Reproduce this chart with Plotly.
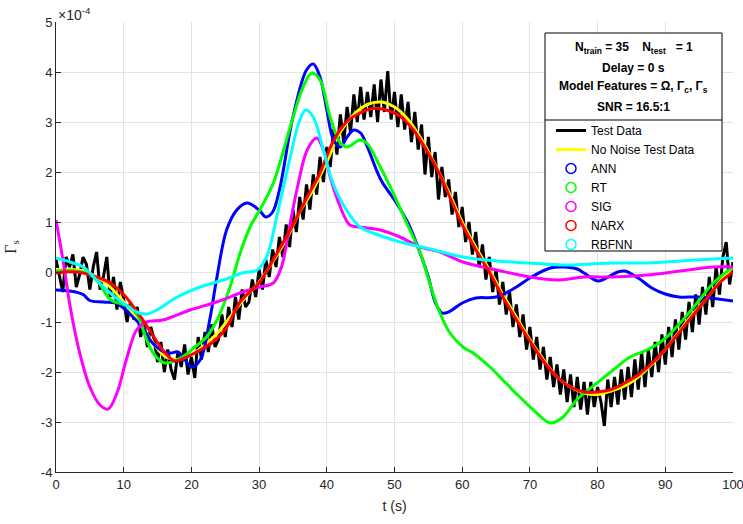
import plotly.graph_objects as go

# Measured test signal, sampled every 0.5 s (values in units of 1e-4)
test_data = [
    0.25, -0.1, -0.4, 0.3, 0.1, 0.35, -0.3, -0.05, 0.3, 0.15,
    -0.35, 0.1, 0.4, -0.35, -0.1, 0.3, -0.5, -0.1, -0.75, -0.2,
    -0.55, -1.0, -0.6, -0.95, -0.7, -1.3, -1.0, -1.5, -1.1, -1.35,
    -1.8, -1.4, -2.0, -1.55, -1.95, -2.15, -1.6, -1.9, -1.45, -2.05,
    -1.7, -2.12, -1.3, -1.75, -1.2, -1.6, -1.05, -1.5, -1.35, -0.85,
    -1.3, -0.7, -1.1, -0.5, -0.95, -0.35, -0.7, -0.6, -0.15, -0.5,
    0.05, -0.35, 0.25, -0.1, 0.45, 0.1, 0.7, 0.3, 0.95, 0.5,
    1.25, 0.8, 1.5, 1.05, 1.75, 1.25, 1.95, 1.55, 2.3, 1.8,
    2.5, 2.1, 2.85, 2.35, 3.15, 2.6, 3.3, 2.8, 3.55, 3.0,
    3.7, 3.05, 3.6, 3.1, 3.75, 3.0, 3.85, 3.2, 4.02, 3.05,
    3.6, 2.9, 3.55, 2.85, 3.4, 2.6, 3.2, 2.45, 2.95, 1.95,
    2.7, 1.9, 2.4, 1.45, 2.1, 1.5, 1.85, 1.15, 1.6, 0.9,
    1.3, 0.6, 1.0, 0.35, 0.8, 0.1, 0.55, -0.15, 0.3, -0.4,
    0.05, -0.65, -0.2, -0.85, -0.4, -1.1, -0.65, -1.3, -0.85, -1.55,
    -1.1, -1.75, -1.3, -1.95, -1.5, -2.15, -1.7, -2.3, -1.85, -2.45,
    -1.95, -2.6, -2.05, -2.7, -2.1, -2.75, -2.2, -2.85, -2.2, -2.7,
    -2.3, -2.6, -3.08, -2.15, -2.7, -2.1, -2.65, -1.95, -2.55, -1.9,
    -2.5, -1.75, -2.35, -1.6, -2.3, -1.55, -2.1, -1.4, -2.0, -1.25,
    -1.85, -1.1, -1.7, -0.95, -1.55, -0.8, -1.35, -0.6, -1.2, -0.45,
    -1.05, -0.3, -0.85, -0.1, -0.7, 0.1, -0.45, 0.3, 0.6, -0.25,
    0.2,
]
t_test = [i * 0.5 for i in range(len(test_data))]

t_clean = list(range(0, 101, 2))
no_noise = [
    0.05, 0.05, 0.02, -0.1, -0.3, -0.6, -0.95, -1.35, -1.68, -1.75,
    -1.65, -1.45, -1.2, -0.85, -0.5, -0.2, 0.2, 0.65, 1.2, 1.65,
    2.2, 2.8, 3.15, 3.35, 3.4, 3.3, 3.05, 2.65, 2.15, 1.6,
    1.0, 0.5, 0.05, -0.45, -0.9, -1.35, -1.75, -2.1, -2.3, -2.42,
    -2.45, -2.38, -2.28, -2.1, -1.85, -1.55, -1.2, -0.85, -0.55, -0.2,
    0.1,
]

t_ann = [0, 2, 4, 5, 7, 9, 11, 13, 14, 16, 17, 18, 19, 20, 21.3, 22.7, 23.7,
         25.2, 26.7, 28.2, 30, 31, 32, 33, 35, 37, 38, 39, 40, 41, 42, 43, 44,
         45, 46, 48, 50, 52, 54, 55, 56, 57, 58, 60, 62, 65, 68, 70, 73, 75,
         77, 78, 80, 81, 83, 84, 86, 88, 90, 92, 95, 100]
ann = [-0.36, -0.38, -0.45, -0.57, -0.6, -0.63, -0.85, -1.15, -1.38, -1.6,
       -1.62, -1.6, -1.75, -1.9, -1.76, -0.96, -0.16, 0.84, 1.24, 1.38, 1.24,
       1.1, 1.2, 1.64, 3.1, 4.04, 4.16, 3.9, 3.24, 2.64, 2.5, 2.7, 2.84, 2.78,
       2.5, 1.84, 1.44, 0.98, 0.3, -0.1, -0.6, -0.82, -0.8, -0.62, -0.52, -0.5,
       -0.3, -0.12, 0.08, 0.1, 0.06, -0.02, -0.18, -0.14, 0.0, 0.02, -0.12,
       -0.32, -0.44, -0.5, -0.5, -0.58]

t_rt = [0, 3, 5, 6.5, 8, 10, 11, 12, 13.4, 14.5, 16.1, 18.8, 20.5, 22.3, 24,
        25.7, 27.2, 28.7, 30.1, 32.1, 34.6, 36.5, 37.8, 39, 40.5, 42, 43, 44.9,
        45.9, 47.9, 49.8, 51.8, 53.8, 55.2, 56.7, 58.2, 60.1, 61.6, 64.1, 66,
        68.5, 71, 73, 74.9, 76.9, 78.6, 79.9, 82.3, 84.8, 87.3, 89.7, 92.2,
        94.7, 97.1, 100]
rt = [0.02, 0.02, -0.05, -0.25, -0.55, -0.65, -0.7, -0.85, -1.36, -1.65,
      -1.82, -1.69, -1.5, -1.29, -0.9, -0.3, 0.38, 0.91, 1.24, 1.78, 2.9, 3.7,
      3.98, 3.84, 3.1, 2.58, 2.5, 2.64, 2.58, 2.1, 1.58, 0.98, 0.38, -0.22,
      -0.82, -1.22, -1.5, -1.62, -1.9, -2.16, -2.5, -2.82, -3.02, -2.9, -2.56,
      -2.36, -2.22, -1.96, -1.7, -1.56, -1.36, -1.02, -0.62, -0.22, 0.1]

t_sig = [0, 1.1, 2.1, 3.5, 5, 6.5, 7.7, 9, 10.5, 11.9, 13.4, 15.8, 19.8, 23.7,
         28, 30.1, 32.1, 33.3, 34.6, 35.8, 37.1, 38.5, 39.5, 40.5, 42, 43.4,
         44.9, 47.9, 50.8, 53.8, 56.7, 60.1, 65.1, 70, 74, 78, 82.3, 87.3, 92.2,
         97.1, 100]
sig = [1.04, 0.18, -0.7, -1.62, -2.3, -2.66, -2.74, -2.42, -1.7, -1.16, -1.0,
       -0.96, -0.76, -0.6, -0.38, -0.3, -0.22, 0.1, 0.98, 1.78, 2.44, 2.68,
       2.44, 1.9, 1.3, 0.94, 0.9, 0.84, 0.7, 0.5, 0.4, 0.2, 0.04, -0.1, -0.16,
       -0.1, -0.1, -0.06, 0.02, 0.1, 0.1]

t_narx = [0, 3, 6, 8, 10, 12, 14, 16, 17.5, 19, 21, 23, 25, 27.2, 30.1, 32.1,
          34.6, 37.1, 39, 40.9, 42.9, 44.9, 46.8, 48.8, 50.8, 52.8, 54.8, 56.7,
          58, 60, 62, 64, 66, 68, 70, 72, 74, 76, 78, 80, 82, 84, 86, 88, 90,
          92, 94, 96, 98, 100]
narx = [-0.02, 0.0, -0.1, -0.22, -0.45, -0.8, -1.2, -1.6, -1.78, -1.72, -1.58,
        -1.42, -1.15, -0.6, -0.2, 0.25, 0.84, 1.5, 1.98, 2.6, 3.0, 3.18, 3.27,
        3.24, 3.12, 2.84, 2.42, 1.95, 1.55, 0.95, 0.45, 0.0, -0.5, -0.95,
        -1.38, -1.78, -2.1, -2.3, -2.4, -2.4, -2.35, -2.22, -2.06, -1.83, -1.55,
        -1.22, -0.88, -0.55, -0.22, 0.0]

t_rbf = [0, 2.1, 4, 6, 8, 9.9, 11.9, 13.4, 14.9, 17.9, 21.3, 24.7, 27.5, 29.7,
         31.1, 32.6, 34.6, 36, 36.9, 38, 39.5, 40.9, 42.9, 44.9, 46.8, 50.8, 55,
         60.1, 65.1, 70, 74.9, 78.9, 82.3, 87.3, 92.2, 97.1, 100]
rbfnn = [0.28, 0.2, 0.1, -0.16, -0.42, -0.62, -0.8, -0.84, -0.76, -0.5, -0.3,
         -0.16, -0.02, 0.04, 0.3, 1.1, 2.3, 3.04, 3.24, 3.1, 2.44, 1.78, 1.24,
         0.9, 0.78, 0.6, 0.47, 0.3, 0.22, 0.18, 0.14, 0.16, 0.18, 0.18, 0.22,
         0.26, 0.28]

x_ticks = [0, 10, 20, 30, 40, 50, 60, 70, 80, 90, 100]
y_ticks = [-4, -3, -2, -1, 0, 1, 2, 3, 4, 5]
y_ticktext = [str(v) for v in y_ticks]

header_lines = [
    "<b>N<sub>train</sub> = 35    N<sub>test</sub>   = 1</b>",
    "<b>Delay = 0 s</b>",
    "<b>Model Features = Ω, Γ<sub>c</sub>, Γ<sub>s</sub></b>",
    "<b>SNR = 16.5:1</b>",
]

models = [
    ("ANN", t_ann, ann, "#0000ff"),
    ("RT", t_rt, rt, "#00ff00"),
    ("SIG", t_sig, sig, "#ff00ff"),
    ("NARX", t_narx, narx, "#ff0000"),
    ("RBFNN", t_rbf, rbfnn, "#00ffff"),
]

FONT = "Liberation Sans, Arial, Helvetica, sans-serif"
AX = "#262626"

# plot-area geometry in pixels (used to place the legend box in paper units)
W, H = 743, 524
ML, MR, MT, MB = 56, 10, 22, 52
PW, PH = W - ML - MR, H - MT - MB


def px_x(px):
    return (px - ML) / PW


def px_y(py):
    return 1 - (py - MT) / PH


fig = go.Figure()
fig.add_trace(go.Scatter(x=t_test, y=test_data, mode="lines", name="Test Data",
                         line=dict(color="black", width=3)))
fig.add_trace(go.Scatter(x=t_clean, y=no_noise, mode="lines", name="No Noise Test Data",
                         line=dict(color="#ffff00", width=3, shape="spline")))
for name, tx, vy, col in models:
    fig.add_trace(go.Scatter(x=tx, y=vy, mode="lines", showlegend=False,
                             legendgroup=name,
                             line=dict(color=col, width=3, shape="spline", smoothing=1.0)))
# legend entries for the model curves use open circles
for name, tx, vy, col in models:
    fig.add_trace(go.Scatter(x=[None], y=[None], mode="markers", name=name,
                             legendgroup=name,
                             marker=dict(symbol="circle-open", size=10, color=col,
                                         line=dict(width=1.5, color=col))))

annotations = [dict(
    text="×10<sup>-4</sup>", xref="paper", yref="paper", x=0.0, y=1.0,
    xanchor="left", yanchor="bottom", showarrow=False,
    font=dict(size=14, color=AX), yshift=-3,
)]
for i, line in enumerate(header_lines):
    annotations.append(dict(
        text=line, xref="paper", yref="paper",
        x=px_x(633.5), y=px_y(48 + 19.5 * i),
        xanchor="center", yanchor="middle", showarrow=False,
        font=dict(size=12, color="black", family=FONT),
    ))

fig.update_layout(
    width=W, height=H,
    margin=dict(l=ML, r=MR, t=MT, b=MB, autoexpand=False),
    paper_bgcolor="white", plot_bgcolor="white",
    font=dict(family=FONT, size=13, color=AX),
    showlegend=True,
    legend=dict(
        x=px_x(551), y=px_y(116), xanchor="left", yanchor="top",
        bgcolor="rgba(0,0,0,0)", borderwidth=0,
        font=dict(size=12, color="black"),
        tracegroupgap=0, itemwidth=30,
    ),
    xaxis=dict(
        range=[0, 100], tickvals=x_ticks, ticks="inside", ticklen=5,
        tickcolor=AX, showline=True, linecolor=AX, linewidth=1,
        showgrid=True, gridcolor="#e3e3e3", zeroline=False,
        ticklabeloverflow="allow", automargin=False,
        title=dict(text="t (s)", font=dict(size=14, color=AX), standoff=10),
        tickfont=dict(size=13, color=AX),
    ),
    yaxis=dict(
        range=[-4, 5], tickvals=y_ticks, ticktext=y_ticktext, ticks="inside",
        ticklen=5, tickcolor=AX, showline=True, linecolor=AX, linewidth=1,
        showgrid=True, gridcolor="#e3e3e3", zeroline=False, automargin=False,
        title=dict(text="Γ<sub>s</sub>", font=dict(size=16, color=AX,
                   family="Liberation Serif, Times New Roman, serif"), standoff=20),
        tickfont=dict(size=13, color=AX),
    ),
    annotations=annotations,
)

# legend frame with a rule under the header block
fig.add_shape(type="rect", xref="paper", yref="paper", layer="above",
              x0=px_x(545), x1=px_x(722), y0=px_y(251), y1=px_y(33),
              fillcolor="white", line=dict(color="black", width=1))
fig.add_shape(type="line", xref="paper", yref="paper", layer="above",
              x0=px_x(545), x1=px_x(722), y0=px_y(120), y1=px_y(120),
              line=dict(color="black", width=1))

fig.write_html("out.html")
